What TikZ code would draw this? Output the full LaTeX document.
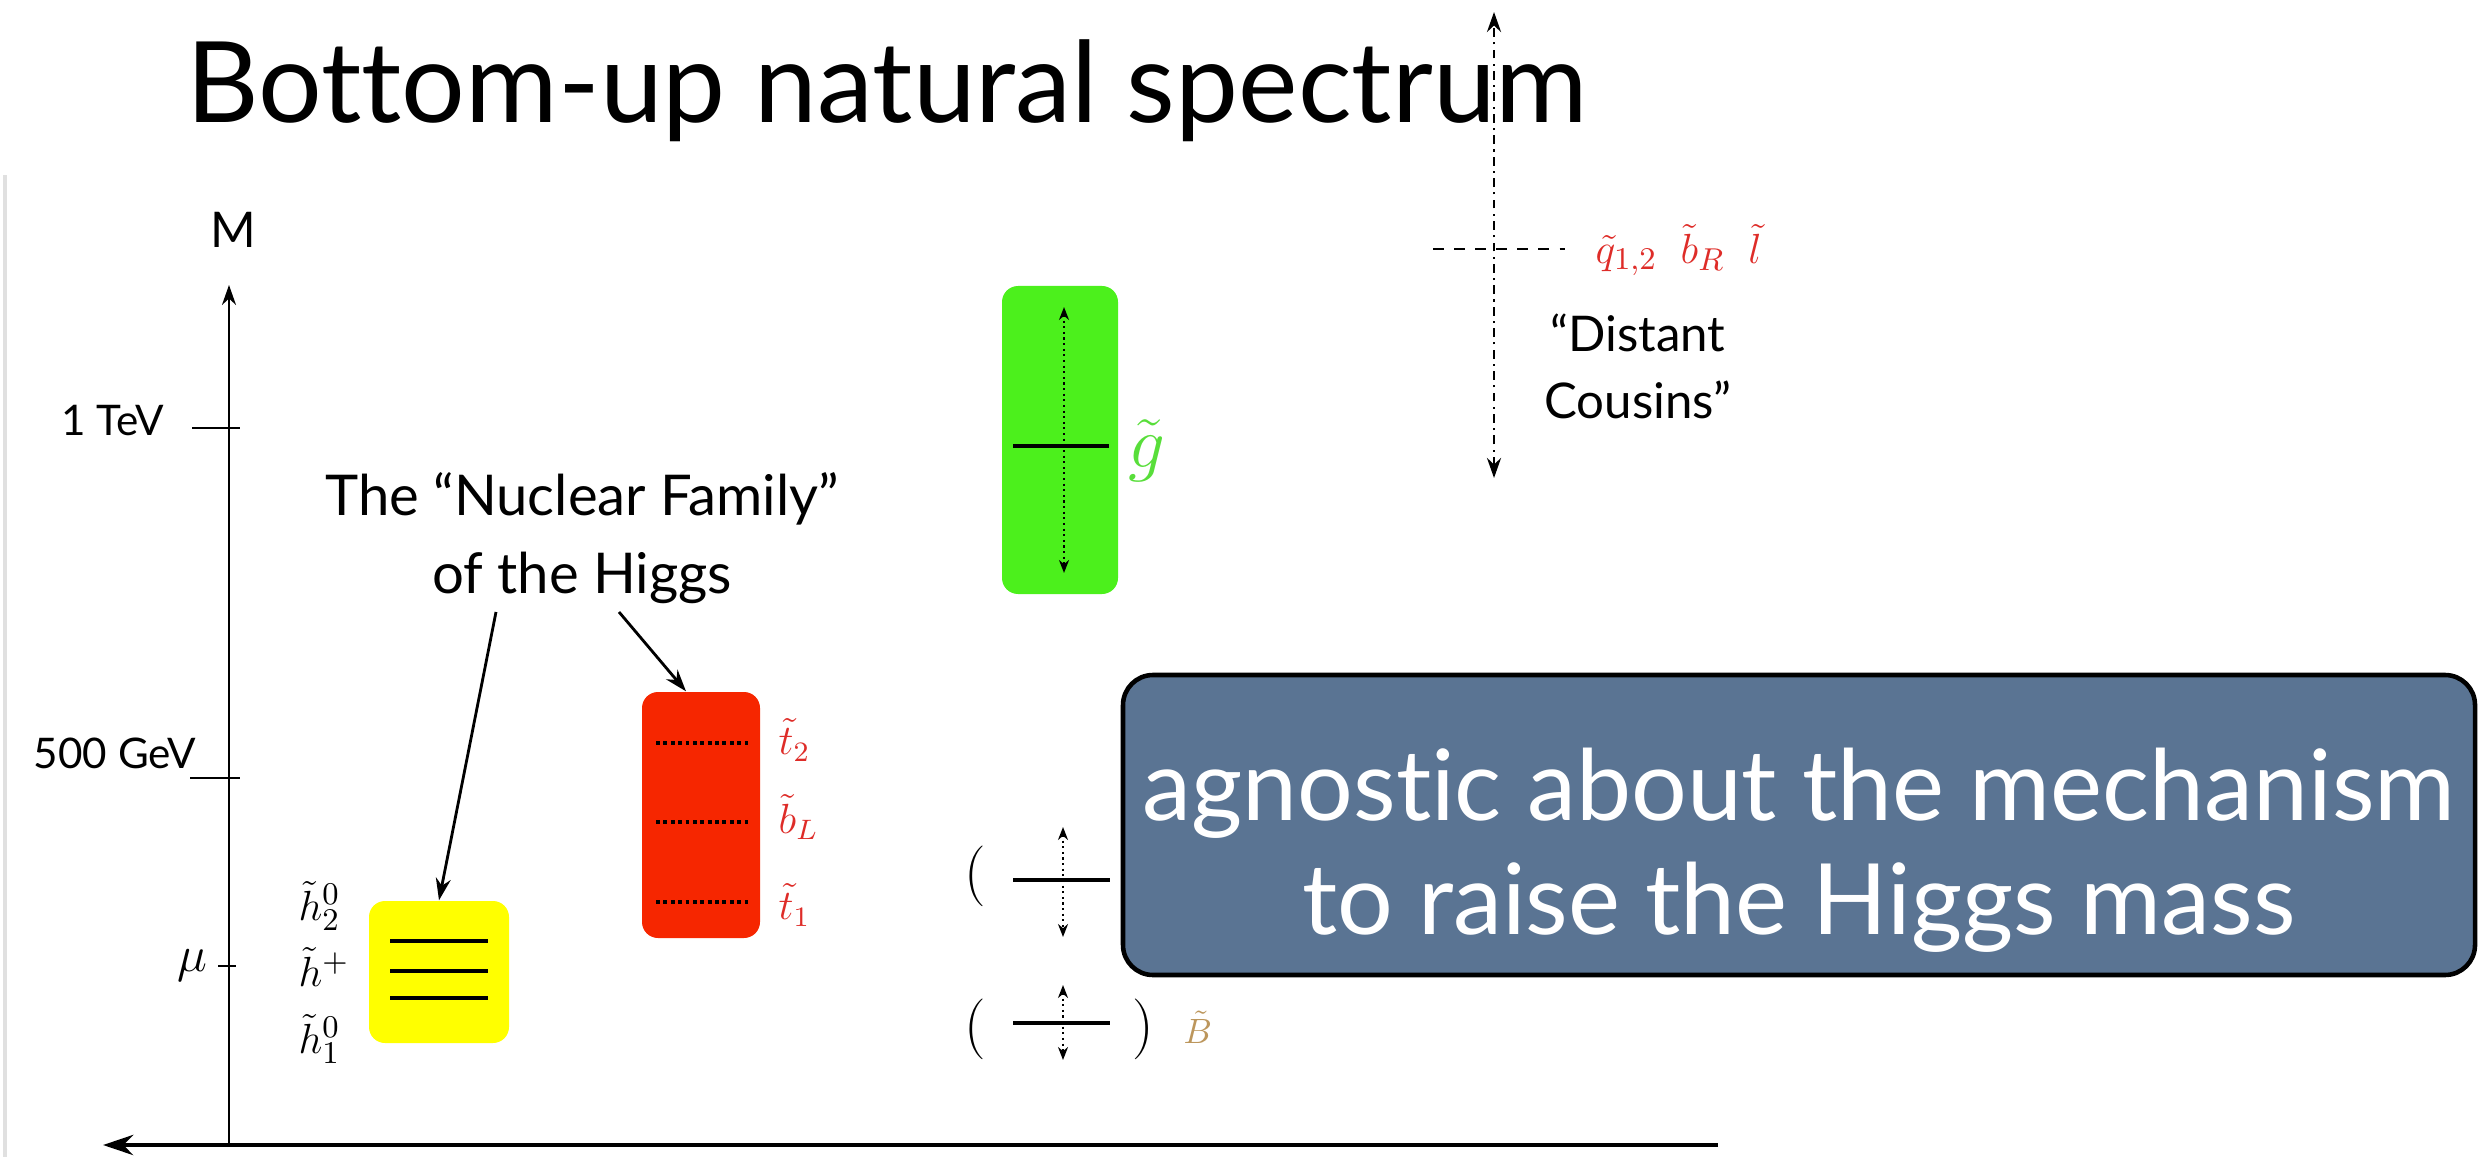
\documentclass[tikz,border=0pt]{standalone}
\usepackage{fontspec}
\setmainfont{Lato}[Ligatures={TeX,NoCommon}]
\usetikzlibrary{arrows.meta,positioning}
\definecolor{higgsyellow}{RGB}{255,255,0}
\definecolor{stopred}{RGB}{246,38,0}
\definecolor{gluinogreen}{RGB}{76,240,28}
\definecolor{slateblue}{RGB}{90,116,147}
\definecolor{sred}{RGB}{222,44,40}
\definecolor{sgreen}{RGB}{88,222,58}
\definecolor{sbrown}{RGB}{188,150,92}
\begin{document}
\begin{tikzpicture}[
  x=0.1mm, y=-0.1mm, inner sep=0pt,
  band/.style={rounded corners=1.6mm},
  level/.style={line width=1.4pt},
  sublevel/.style={densely dotted,line width=1.1pt},
  span/.style={densely dotted,line width=0.6pt,
    {Stealth[length=1.3mm,width=1mm]}-{Stealth[length=1.3mm,width=1mm]}},
  tick/.style={line width=0.8pt},
  pointer/.style={line width=0.8pt,-{Stealth[length=2.2mm,width=1.5mm]}},
  axlabel/.style={font=\fontsize{12}{14}\selectfont},
  spart/.style={anchor=west,font=\fontsize{12}{14}\selectfont},
  note/.style={align=center,font=\fontsize{16}{22}\selectfont}]
\useasboundingbox (0,0) rectangle (2487,1157);
\draw[black!12,line width=1.2pt] (5,175) -- (5,1157);

\node[anchor=base west,font=\fontsize{32}{40}\selectfont] (title) at (186,123)
  {Bottom-up natural spectrum};

% mass axis
\coordinate (o) at (229,1145);
\coordinate (mtop) at (229,285);
\coordinate (xr) at (1718,1145);
\coordinate (xl) at (103,1145);
\draw[line width=0.7pt,-{Stealth[length=2mm,width=1.4mm]}] (o) -- (mtop);
\draw[line width=1.4pt,-{Stealth[length=3mm,width=2mm]}] (xr) -- (xl);
\node[font=\fontsize{14}{16}\selectfont] (mlab) at (233,230) {M};
\draw[tick] (192,428) -- (240,428);
\node[axlabel,anchor=base east] (tev) at (165,435) {1 TeV};
\draw[tick] (190,778) -- (240,778);
\node[axlabel,anchor=base east] (gev) at (197,768) {500 GeV};
\draw[tick] (218,966) -- (236,966);
\node[anchor=east,font=\fontsize{15}{17}\selectfont] (mu) at (208,966) {$\mu$};

% higgsinos
\node[band,fill=higgsyellow,minimum width=14mm,minimum height=14.2mm] (higgsino) at (439,972) {};
\foreach \y in {941,971,998}
  \draw[level] (390,\y) -- (488,\y);
\node[spart,font=\fontsize{12.5}{14}\selectfont] (h2) at (298,906) {$\tilde h_2^0$};
\node[spart,font=\fontsize{12.5}{14}\selectfont] (hp) at (298,967) {$\tilde h^+$};
\node[spart,font=\fontsize{12.5}{14}\selectfont] (h1) at (298,1039) {$\tilde h_1^0$};

% stops and sbottom
\node[band,fill=stopred,minimum width=11.8mm,minimum height=24.6mm] (stops) at (701,815) {};
\foreach \y in {743,822,902}
  \draw[sublevel] (656,\y) -- (750,\y);
\node[spart,text=sred] (t2) at (778,740) {$\tilde t_2$};
\node[spart,text=sred] (bl) at (778,817) {$\tilde b_L$};
\node[spart,text=sred] (t1) at (778,905) {$\tilde t_1$};

% gluino
\node[band,fill=gluinogreen,minimum width=11.6mm,minimum height=30.8mm] (gluino) at (1060,440) {};
\draw[line width=1pt] (1013,446) -- (1109,446);
\draw[span] (1064,307) -- (1064,573);
\node[spart,text=sgreen,font=\fontsize{20}{24}\selectfont] (glab) at (1128,451) {$\tilde g$};

% electroweakinos
\node[font=\fontsize{18}{20}\selectfont] (wl) at (975,876) {$($};
\draw[line width=1pt] (1013,880) -- (1110,880);
\draw[span] (1063,827) -- (1063,937);
\node[font=\fontsize{18}{20}\selectfont] (bpl) at (975,1029) {$($};
\node[font=\fontsize{18}{20}\selectfont] (bpr) at (1143,1029) {$)$};
\draw[line width=1pt] (1013,1023) -- (1110,1023);
\draw[span] (1063,985) -- (1063,1060);
\node[spart,text=sbrown,font=\fontsize{10}{12}\selectfont] (blab) at (1183,1027) {$\tilde B$};

% distant cousins
\coordinate (dtop) at (1494,12);
\coordinate (dbot) at (1494,478);
\coordinate (dl) at (1433,249);
\coordinate (dr) at (1565,249);
\draw[line width=0.8pt,dash pattern=on 2.5pt off 1.5pt on 0.6pt off 1.5pt,
  {Stealth[length=2mm,width=1.4mm]}-{Stealth[length=2mm,width=1.4mm]}] (dbot) -- (dtop);
\draw[line width=0.8pt,dashed] (dl) -- (dr);
\node[spart,text=sred,font=\fontsize{13}{15}\selectfont] (heavy) at (1595,250)
  {$\tilde q_{1,2}\ \ \tilde b_R\ \ \tilde l$};
\node[note,font=\fontsize{14}{19}\selectfont] (cousins) at (1638,366) {“Distant\\Cousins”};

% nuclear family
\node[note] (nuclear) at (582,538) {The “Nuclear Family”\\of the Higgs};
\draw[pointer] ([xshift=-8.6mm,yshift=-0.8mm]nuclear.south) -- (higgsino.north);
\draw[pointer] ([xshift=3.7mm,yshift=-0.8mm]nuclear.south) -- ([xshift=-1.5mm]stops.north);

% overlay
\node[draw=black,line width=1.3pt,fill=slateblue,rounded corners=3mm,
  minimum width=135.2mm,minimum height=30mm] (mech) at (1799,825) {};
\node[text=white,align=center,font=\fontsize{28}{32.5}\selectfont] (mechtext)
  at ([yshift=-2.5mm]mech.center) {agnostic about the mechanism\\to raise the Higgs mass};
\end{tikzpicture}
\end{document}
